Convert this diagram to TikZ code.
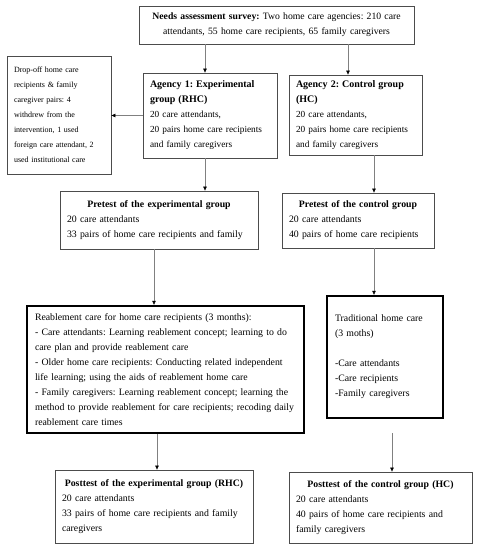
\documentclass[tikz,border=0pt]{standalone}
\usepackage{fontspec}
\setmainfont{Liberation Serif}
\usetikzlibrary{arrows.meta}
\frenchspacing
\begin{document}
\begin{tikzpicture}[x=1pt,y=-1pt,
  box/.style={draw=black!70, line width=0.8pt, inner xsep=7pt, inner ysep=0pt,
    align=left, font=\fontsize{9.8}{15}\selectfont\frenchspacing},
  thickbox/.style={box, draw=black, line width=2.4pt},
  arr/.style={draw=black!50, line width=0.6pt, -{Triangle[length=4pt,width=3.5pt,color=black]}}
]
\useasboundingbox (0,0) rectangle (480,550);

\node[box, align=center, font=\fontsize{9.7}{15}\selectfont\frenchspacing, minimum width=275, minimum height=38, text width=261pt] (needs) at (276.5,25)
  {\textbf{Needs assessment survey:} Two home care agencies: 210 care\\ attendants, 55 home care recipients, 65 family caregivers};

\node[box, font=\fontsize{8}{15}\selectfont\frenchspacing, minimum width=104, minimum height=118, text width=90pt] (drop) at (59,115)
  {Drop-off home care\\ recipients \& family\\ caregiver pairs: 4\\ withdrew from the\\ intervention, 1 used\\ foreign care attendant, 2\\ used institutional care};

\node[box, font=\fontsize{9.3}{15}\selectfont\frenchspacing, minimum width=134, minimum height=85, text width=120pt] (a1) at (210,115.5)
  {{\fontsize{10}{15}\selectfont\bfseries Agency 1: Experimental}\\ {\fontsize{10}{15}\selectfont\bfseries group (RHC)}\\ 20 care attendants,\\ 20 pairs home care recipients\\ and family caregivers};

\node[box, font=\fontsize{9.3}{15}\selectfont\frenchspacing, minimum width=133, minimum height=80, text width=119pt] (a2) at (355.5,115)
  {{\fontsize{10}{15}\selectfont\bfseries Agency 2: Control group}\\ {\fontsize{10}{15}\selectfont\bfseries (HC)}\\ 20 care attendants,\\ 20 pairs home care recipients\\ and family caregivers};

\node[box, minimum width=198, minimum height=58, text width=184pt] (p1) at (159,220)
  {\hfill\textbf{Pretest of the experimental group}\hfill\null\\ 20 care attendants\\ 33 pairs of home care recipients and family};

\node[box, minimum width=152, minimum height=55, text width=138pt] (p2) at (358,220.5)
  {\hfill\textbf{Pretest of the control group}\hfill\null\\ 20 care attendants\\ 40 pairs of home care recipients};

\node[thickbox, minimum width=277, minimum height=127, text width=261pt] (r) at (165.5,369.5)
  {Reablement care for home care recipients (3 months):\\
   - Care attendants: Learning reablement concept; learning to do\\
   care plan and provide reablement care\\
   - Older home care recipients: Conducting related independent\\
   life learning; using the aids of reablement home care\\
   - Family caregivers: Learning reablement concept; learning the\\
   method to provide reablement for care recipients; recoding daily\\
   reablement care times};

\node[thickbox, minimum width=116, minimum height=122, text width=100pt] (t) at (385,357)
  {Traditional home care\\ (3 moths)\\[15pt] -Care attendants\\ -Care recipients\\ -Family caregivers};

\node[box, minimum width=198, minimum height=73, text width=184pt] (q1) at (154,506.5)
  {\hfill\textbf{Posttest of the experimental group (RHC)}\hfill\null\\ 20 care attendants\\ 33 pairs of home care recipients and family\\ caregivers};

\node[box, minimum width=183, minimum height=71, text width=169pt] (q2) at (380.5,507.5)
  {\hfill\textbf{Posttest of the control group (HC)}\hfill\null\\ 20 care attendants\\ 40 pairs of home care recipients and\\ family caregivers};

\coordinate (c1) at (205,0);
\coordinate (c2) at (348,0);
\coordinate (c4) at (374,0);
\coordinate (c5) at (154,0);
\coordinate (c6) at (157,0);
\coordinate (c7) at (392,0);

\draw[arr] (needs.south -| c1) -- (a1.north -| c1);
\draw[arr] (needs.south -| c2) -- (a2.north -| c2);
\draw[arr] (a1.west) -- (drop.east |- a1.west);
\draw[arr] (a1.south -| c1) -- (p1.north -| c1);
\draw[arr] (a2.south -| c4) -- (p2.north -| c4);
\draw[arr] (p1.south -| c5) -- (r.north -| c5);
\draw[arr] (p2.south -| c4) -- (t.north -| c4);
\draw[arr] (r.south -| c6) -- (q1.north -| c6);
\draw[arr, shorten <=14pt] (t.south -| c7) -- (q2.north -| c7);
\end{tikzpicture}
\end{document}
